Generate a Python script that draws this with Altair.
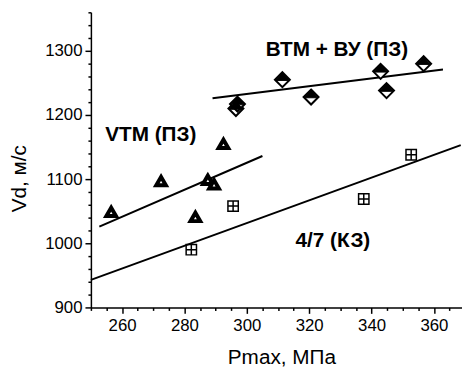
import altair as alt
import pandas as pd

# --- data ---
vtm_x = [256.5, 272.5, 283.5, 287.5, 289.5, 292.5]
vtm_y = [1049, 1097, 1041, 1099, 1092, 1155]

btm_x = [296.5, 297.0, 311.4, 320.6, 342.9, 344.8, 356.7]
btm_y = [1210, 1217, 1255, 1228, 1268, 1238, 1280]

k47_x = [282.2, 295.6, 337.5, 352.7]
k47_y = [990, 1058, 1069, 1138]

line_series = ["VTM", "VTM", "BTM", "BTM", "K47", "K47"]
line_x = [252.7, 305.0, 289.0, 362.9, 250.0, 368.6]
line_y = [1026, 1136, 1226, 1271, 943, 1153]

label_text = ["ВТМ + ВУ (ПЗ)", "VTM (ПЗ)", "4/7 (КЗ)"]
label_x = [328.9, 269.2, 327.6]
label_y = [1301, 1168, 1004]

x_ticks = list(range(250, 370, 5))
y_ticks = list(range(900, 1361, 20))

FONT = "Liberation Sans"

xs = alt.Scale(domain=[250, 369], nice=False, zero=False)
ys = alt.Scale(domain=[900, 1360], nice=False, zero=False)

x_axis = alt.Axis(
    values=x_ticks, format="d",
    labelExpr="datum.value % 20 == 0 && datum.value >= 260 ? datum.label : ''",
    tickSize={"condition": {"test": "datum.value % 20 == 0 && datum.value >= 260", "value": 6}, "value": 3},
    labelOverlap=False, grid=False,
    title="Pmax, МПа", titleX=193, titleY=51, titleBaseline="middle",
    titleFontSize=21, titleFontWeight="normal", titleFont=FONT,
    labelFontSize=17, labelFont=FONT, labelPadding=4,
    domainColor="black", domainWidth=1.5, tickColor="black", tickWidth=1.5,
    labelColor="black", titleColor="black",
)
y_axis = alt.Axis(
    values=y_ticks, format="d",
    labelExpr="datum.value % 100 == 0 && datum.value <= 1300 ? datum.label : ''",
    tickSize={"condition": {"test": "datum.value % 100 == 0 && datum.value <= 1300", "value": 6}, "value": 3},
    labelOverlap=False, grid=False,
    title="Vd, м/с", titleX=-72, titleY=168, titleAngle=270, titleBaseline="middle", titleAlign="center",
    titleFontSize=21, titleFontWeight="normal", titleFont=FONT,
    labelFontSize=17, labelFont=FONT, labelPadding=3,
    domainColor="black", domainWidth=1.5, tickColor="black", tickWidth=1.5,
    labelColor="black", titleColor="black",
)

vtm = pd.DataFrame({"x": vtm_x, "y": vtm_y})
btm = pd.DataFrame({"x": btm_x, "y": btm_y})
k47 = pd.DataFrame({"x": k47_x, "y": k47_y})
lines = pd.DataFrame({"s": line_series, "x": line_x, "y": line_y})
labels = pd.DataFrame({"t": label_text, "x": label_x, "y": label_y})

base_enc = dict(
    x=alt.X("x:Q", scale=xs, axis=x_axis),
    y=alt.Y("y:Q", scale=ys, axis=y_axis),
)

line_layer = alt.Chart(lines).mark_line(color="black", strokeWidth=2).encode(
    detail="s:N", **base_enc
)

tri = alt.Chart(vtm).mark_point(
    shape="triangle-up", filled=True, fill="white", stroke="black",
    strokeWidth=4, size=95, opacity=1
).encode(**base_enc)

diamond_outline = "M0,-1L1,0L0,1L-1,0Z"
diamond_top = "M0,-1L0.9,0.1L-0.9,0.1Z"
dia1 = alt.Chart(btm).mark_point(
    shape=diamond_outline, filled=True, fill="white", stroke="black",
    strokeWidth=2, size=230, opacity=1
).encode(**base_enc)
dia2 = alt.Chart(btm).mark_point(
    shape=diamond_top, filled=True, fill="black", stroke="black",
    strokeWidth=1, size=230, opacity=1
).encode(**base_enc)

sq_path = "M-1,-1L1,-1L1,1L-1,1Z M0,-1L0,1 M-1,0L1,0"
sq = alt.Chart(k47).mark_point(
    shape=sq_path, filled=False, stroke="black", strokeWidth=1.5,
    size=110, opacity=1
).encode(**base_enc)

txt = alt.Chart(labels).mark_text(
    font=FONT, fontSize=21, fontWeight="bold", color="black",
    align="center", baseline="middle"
).encode(text="t:N", **base_enc)

chart = alt.layer(line_layer, tri, dia1, dia2, sq, txt).properties(
    width=376, height=299,
    autosize=alt.AutoSizeParams(type="none"),
    padding={"left": 84, "top": 2, "right": 0, "bottom": 60},
    background="white",
).configure_view(stroke=None)

chart.save("out.html", embed_options={"renderer": "svg", "actions": False})
